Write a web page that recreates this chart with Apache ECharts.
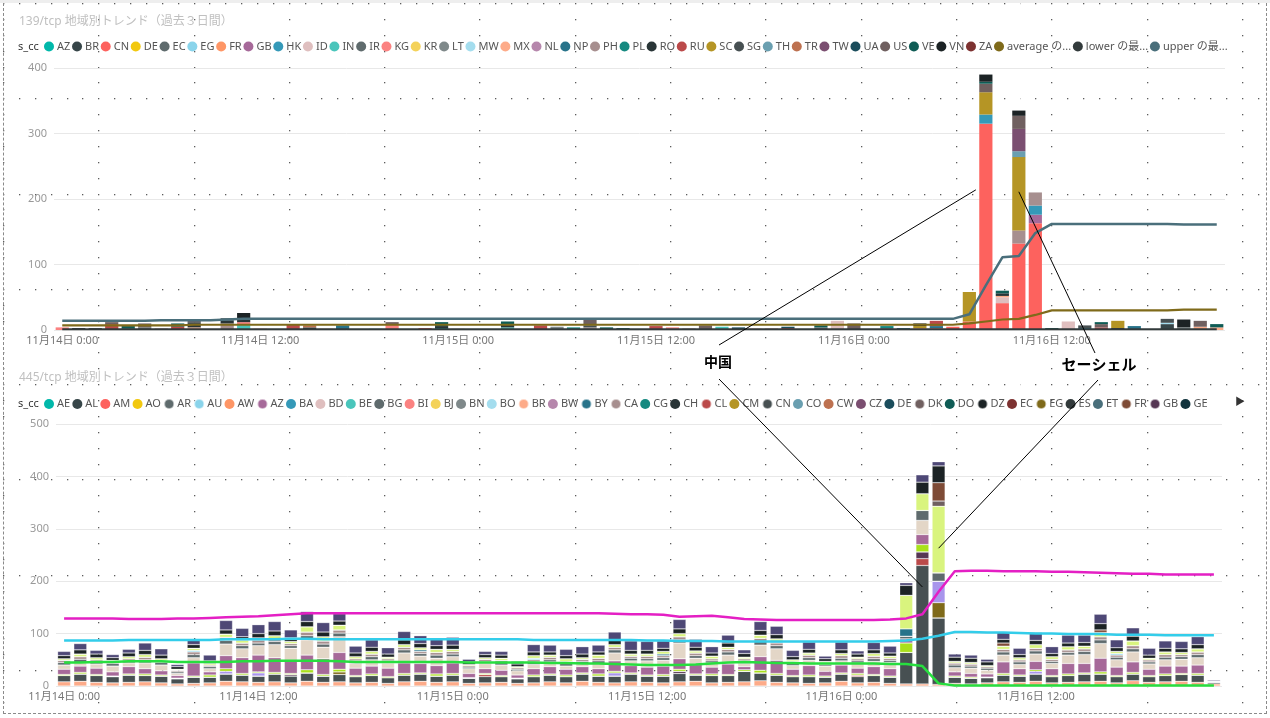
<!DOCTYPE html>
<html><head><meta charset="utf-8">
<script src="https://cdn.jsdelivr.net/npm/echarts@6/dist/echarts.min.js"></script>
<style>
html,body{margin:0;padding:0;width:1270px;height:718px;overflow:hidden;background:#fff;}
#bg{position:absolute;left:0;top:0;width:1270px;height:718px;
background-image:url("data:image/svg+xml,%3Csvg xmlns='http://www.w3.org/2000/svg' width='96' height='96'%3E%3Cg fill='%23333'%3E%3Crect x='0' y='0' width='1.3' height='1.3'/%3E%3Crect x='0' y='16' width='1.3' height='1.3'/%3E%3Crect x='0' y='32' width='1.3' height='1.3'/%3E%3Crect x='0' y='48' width='1.3' height='1.3'/%3E%3Crect x='0' y='64' width='1.3' height='1.3'/%3E%3Crect x='0' y='80' width='1.3' height='1.3'/%3E%3Crect x='16' y='0' width='1.3' height='1.3'/%3E%3Crect x='32' y='0' width='1.3' height='1.3'/%3E%3Crect x='48' y='0' width='1.3' height='1.3'/%3E%3Crect x='64' y='0' width='1.3' height='1.3'/%3E%3Crect x='80' y='0' width='1.3' height='1.3'/%3E%3C/g%3E%3C/svg%3E");
background-size:95.3px 95.3px;background-position:3px 3px;opacity:0.8;}
#topband{position:absolute;left:0;top:0;width:1270px;height:3px;background:#eeeeee;}
#frame{position:absolute;left:3px;top:3px;width:1262px;height:710px;border:1px dashed #8a8a8a;border-top:none;}
#c1,#c2{position:absolute;left:0;top:0;width:1270px;height:718px;}
</style></head>
<body>
<div id="bg"></div><div id="topband"></div><div id="frame"></div>
<div id="c1"></div><div id="c2"></div>
<script>
// ---------- categories / ticks ----------
const days = ['11月14日','11月15日','11月16日'];
const tickLabels = ['11月14日 0:00','11月14日 12:00','11月15日 0:00','11月15日 12:00','11月16日 0:00','11月16日 12:00'];
const allHours = [];
days.forEach(d => { for (let h = 0; h < 24; h++) allHours.push(d + ' ' + h + ':00'); });
const cats139 = allHours.slice(0, 71);
const cats445 = allHours.slice(0, 72);

// ---------- 139/tcp : [hourIndex, value] per country ----------
const t_BR = [[67,9]];
const t_CN = [[22,3],[26,1],[54,5],[55,13],[56,315],[57,41],[58,132],[59,163]];
const t_EC = [[5,4],[46,4]];
const t_EG = [[19,2]];
const t_GB = [[59,13]];
const t_HK = [[56,14],[59,14]];
const t_ID = [[6,3],[9,1],[24,2],[38,3],[47,14],[57,9],[61,13]];
const t_IN = [[11,8],[27,4],[40,5]];
const t_KG = [[0,4],[11,4],[12,2],[20,8],[37,4],[42,2],[53,3]];
const t_LT = [[30,5],[50,3],[68,4]];
const t_MW = [[67,2]];
const t_MX = [[8,4],[16,2],[52,3],[57,2],[69,5],[70,4]];
const t_NP = [[17,7],[51,3],[53,3],[62,3],[65,6]];
const t_PH = [[10,10],[32,4],[58,20],[59,20]];
const t_PL = [[4,2],[23,3],[31,4],[50,3]];
const t_RO = [[1,3],[8,4],[10,4],[11,4],[15,4],[23,3],[27,4],[57,4],[64,3]];
const t_RU = [[3,9],[7,5],[14,9],[29,7],[36,6],[43,2],[44,3],[53,8],[63,4]];
const t_SC = [[52,3],[55,45],[56,34],[58,112],[64,11]];
const t_SG = [[2,3],[8,4],[10,4],[32,3],[62,4],[67,6]];
const t_TH = [[58,9]];
const t_TR = [[15,3]];
const t_TW = [[58,34]];
const t_UA = [[7,2],[41,4],[44,2]];
const t_US = [[3,3],[5,6],[8,4],[20,4],[32,9],[39,7],[48,10],[56,13],[58,20],[63,5],[69,9]];
const t_VE = [[4,4],[7,3],[23,6],[27,5],[33,4],[34,3],[46,3],[56,3],[57,4],[60,3],[63,3],[70,5]];
const t_VN = [[11,10],[52,4],[56,11],[58,8],[68,12]];
const t_upper = [14,14,14,14,14,14,15,15,15,15,16,17,17,17,17,17,17,17,17,17,17,17,17,17,17,17,17,17,17,17,17,17,17,17,17,17,17,17,17,17,17,17,17,17,17,17,17,17,17,17,17,17,17,17,17,24,68,111,113,148,162,162,162,162,162,162,162,162,161,161,161];
const t_avg = [7,7,7,7,7,7,7,7,8,8,8,8,8,8,8,8,8,8,8,8,8,8,8,8,8,8,8,8,8,8,8,8,8,8,8,8,8,8,8,8,8,8,8,8,8,8,8,8,8,8,8,8,8,8,8,10,13,16,17,23,30,30,30,30,30,30,30,30,31,31,31];
const t_lower = [1,1,1,1,1,1,1,1,1,1,1,1,1,1,1,1,1,1,1,1,1,1,1,1,1,1,1,1,1,1,1,1,1,1,1,1,1,1,1,1,1,1,1,1,1,1,1,1,1,1,1,1,1,1,1,1,1,1,1,1,1,1,1,1,1,1,1,1,1,1,1];

// ---------- 445/tcp : hourly values per country ----------
const b_BR = [8,9,7,6,7,8,6,4,5,6,9,8,7,8,6,9,7,8,6,7,5,8,9,7,8,5,6,7,5,6,8,6,9,7,6,8,7,6,8,9,6,7,8,10,7,6,5,6,9,6,7,5,4,4,3,5,4,6,8,7,9,6,7,8,9,6,10,7,8,9,7,4];
const b_CN = [12,14,13,12,14,12,13,10,12,11,14,13,12,15,13,16,12,14,12,13,11,13,14,12,13,10,12,11,9,12,13,12,14,12,13,15,12,13,16,12,14,13,20,15,14,12,13,11,14,12,13,12,60,226,127,12,11,10,13,12,14,12,13,15,14,12,13,11,12,13,14,3];
const b_AR = [5,6,4,5,4,6,5,3,6,4,7,6,5,6,5,8,6,7,5,6,4,6,5,6,5,3,4,5,3,5,4,5,4,5,6,5,4,5,6,5,4,6,5,7,6,4,5,3,5,4,5,4,5,19,16,5,4,4,6,5,6,4,5,6,7,5,6,4,5,5,6,2];
const b_KR = [2,3,2,1,2,3,2,1,2,4,5,3,2,3,2,6,3,5,2,3,2,3,2,4,3,1,2,2,1,3,2,3,2,4,3,2,2,3,4,2,3,2,3,5,3,2,3,2,2,3,2,2,18,14,0,2,2,1,3,2,3,2,3,2,4,2,3,2,3,2,3,0];
const b_SC = [3,5,4,3,4,5,3,2,4,3,6,5,4,6,4,10,8,9,4,5,3,5,4,6,4,2,3,4,2,5,4,5,3,6,5,4,4,5,6,4,5,4,3,6,5,3,4,3,4,3,5,4,64,32,127,3,3,2,6,4,7,5,6,5,8,4,9,3,5,4,6,0];
const b_DZ = [6,8,7,5,7,8,7,5,7,5,8,7,8,9,7,10,9,8,7,8,6,9,8,7,8,5,6,6,5,7,6,6,7,6,8,7,7,6,9,7,6,8,7,9,8,6,7,5,7,6,7,6,19,22,32,8,8,7,7,6,8,6,7,7,12,7,9,6,7,7,8,0];
const b_US = [8,12,7,6,7,14,12,4,10,11,18,16,17,18,15,19,18,14,13,14,12,16,15,14,15,5,6,7,5,14,13,12,14,13,16,18,17,14,18,15,12,15,7,17,16,12,14,5,15,6,14,13,5,14,8,6,6,5,14,12,15,13,15,14,18,15,16,13,14,14,15,2];
const b_CA = [4,5,4,3,4,5,4,3,5,3,6,5,6,5,4,7,6,6,4,5,4,5,4,5,5,3,4,4,3,4,5,4,4,5,5,4,5,4,6,5,4,5,4,6,5,4,5,3,5,4,5,4,0,0,0,4,4,3,5,4,5,4,5,5,6,4,6,4,5,4,5,0];
const b_AZ = [10,12,12,8,14,10,8,5,25,6,25,30,32,28,24,28,30,32,14,15,16,20,18,16,20,8,9,10,6,12,14,11,12,10,20,14,15,16,20,18,13,20,6,26,25,12,18,9,15,10,15,14,8,19,0,8,7,6,22,12,16,13,20,18,26,16,20,12,15,14,16,0];
const b_JP = [8,7,8,11,7,11,11,4,10,6,22,17,18,25,24,29,22,30,9,12,10,19,14,14,12,9,10,10,8,8,9,6,6,10,15,9,12,11,30,12,8,17,6,22,22,7,10,10,8,10,10,12,0,27,0,8,10,7,13,8,14,10,16,17,28,14,19,10,12,13,14,0];
const b_CL = [[26,4],[49,3],[53,13]];
const b_GB = [[14,3],[38,4],[53,13]];
const b_EG = [[17,5],[54,29]];
const b_TW = [[10,5],[12,6],[34,6],[54,41],[60,5]];
const b_BY = [[22,3],[37,3],[52,14]];
const b_DK = [[54,10]];
const b_FR = [[54,35],[58,6],[64,5]];
const b_AU = [[8,3],[29,3],[44,3],[65,3]];
const b_upper = [129,129,129,129,128,128,128,129,129,130,131,132,133,135,137,139,139,139,139,139,139,139,139,139,139,139,139,139,139,139,139,139,139,139,138,137,137,136,132,133,134,131,128,127,126,126,126,126,126,126,126,127,129,137,180,219,220,220,219,219,219,218,218,217,216,215,214,214,213,213,213,213];
const b_avg = [87,87,87,87,88,88,88,88,88,88,89,89,89,89,90,90,89,89,89,89,89,89,89,89,89,89,89,89,89,88,88,88,88,88,88,88,87,87,86,86,86,85,85,85,85,85,85,85,85,85,85,86,87,90,96,103,103,102,102,101,100,100,99,99,99,98,98,98,97,97,97,97];
const b_lower = [45,45,46,46,47,47,47,46,46,46,46,47,47,48,48,48,48,47,46,46,46,46,46,46,46,45,45,45,45,45,44,44,43,43,42,41,40,40,40,41,43,45,46,45,44,44,43,43,43,43,43,42,42,38,5,1,1,1,1,1,1,1,1,1,1,1,1,1,1,1,1,1];

// ---------- helpers ----------
const FONT = "'Segoe UI','Noto Sans','Noto Sans CJK JP',sans-serif";
function dense(src, n){
  if (src.length === n && typeof src[0] === 'number') return src;
  const a = new Array(n).fill(0);
  src.forEach(p => { a[p[0]] = p[1]; });
  return a;
}
function bar(name, color, src, n, border){
  const st = {color};
  if (border) { st.borderColor = 'rgba(255,255,255,0.55)'; st.borderWidth = 0.5; }
  return {name, type:'bar', stack:'s', data:dense(src, n), itemStyle:st,
    barCategoryGap:'20%', emphasis:{disabled:true}};
}
function line(name, color, data, w){
  return {name, type:'line', data, symbol:'none', showSymbol:false, z:5,
    lineStyle:{color, width:w}, itemStyle:{color}, emphasis:{disabled:true}};
}
function xAxisCfg(cats, margin){
  return {type:'category', data:cats, boundaryGap:true,
    axisLine:{show:false}, axisTick:{show:false},
    axisLabel:{interval:(i, v) => tickLabels.indexOf(v) >= 0, color:'#777', fontSize:11, margin, fontFamily:FONT}};
}
function yAxisCfg(max){
  return {type:'value', min:0, max, interval:100,
    axisLine:{show:false}, axisTick:{show:false},
    axisLabel:{color:'#999', fontSize:11, margin:7, fontFamily:FONT},
    splitLine:{lineStyle:{color:'#e8e8e8', width:1}}};
}

// ---------- chart 1 : 139/tcp ----------
const N1 = cats139.length;
const series139 = [
  bar('AZ','#01B8AA',[],N1), bar('BR','#374649',t_BR,N1), bar('CN','#FD625E',t_CN,N1),
  bar('DE','#F2C80F',[],N1), bar('EC','#5F6B6D',t_EC,N1), bar('EG','#8AD4EB',t_EG,N1),
  bar('FR','#FE9666',[],N1), bar('GB','#A66999',t_GB,N1), bar('HK','#3599B8',t_HK,N1),
  bar('ID','#DFBFBF',t_ID,N1), bar('IN','#4AC5BB',t_IN,N1), bar('IR','#5F6B6D',[],N1),
  bar('KG','#FB8281',t_KG,N1), bar('KR','#F4D25A',[],N1), bar('LT','#7F898A',t_LT,N1),
  bar('MW','#A4DDEE',t_MW,N1), bar('MX','#FDAB89',t_MX,N1), bar('NL','#B687AC',[],N1),
  bar('NP','#28738A',t_NP,N1), bar('PH','#A78F8F',t_PH,N1), bar('PL','#168980',t_PL,N1),
  bar('RO','#293537',t_RO,N1), bar('RU','#BB4A4A',t_RU,N1), bar('SC','#B59525',t_SC,N1),
  bar('SG','#475052',t_SG,N1), bar('TH','#6A9FB0',t_TH,N1), bar('TR','#BD7150',t_TR,N1),
  bar('TW','#7B4F71',t_TW,N1), bar('UA','#1B4D5C',t_UA,N1), bar('US','#706060',t_US,N1),
  bar('VE','#0F5C55',t_VE,N1), bar('VN','#1C2325',t_VN,N1), bar('ZA','#7D3231',[],N1),
  line('average の平均','#7F6A1A',t_avg,2.2),
  line('lower の最大値','#323A3B',t_lower,2),
  line('upper の最大値','#4A6F7B',t_upper,2.5)
];
const short139 = {'average の平均':'average の...','lower の最大値':'lower の最...','upper の最大値':'upper の最...'};

const chart1 = echarts.init(document.getElementById('c1'), null, {renderer:'canvas'});
chart1.setOption({
  animation:false,
  textStyle:{fontFamily:FONT},
  title:{text:'139/tcp 地域別トレンド（過去３日間）', left:19, top:16, padding:0,
    textStyle:{color:'#c0c0c0', fontSize:12, fontWeight:'normal', fontFamily:FONT}},
  legend:{data:series139.map(s => s.name), left:44, top:41, padding:0, width:1224,
    itemWidth:10, itemHeight:10, itemGap:1.7, icon:'circle', selectedMode:false,
    formatter:n => short139[n] || n,
    textStyle:{color:'#555', fontSize:11, fontFamily:FONT, padding:[0,0,0,-2]}},
  graphic:[{type:'text', left:18, top:41, style:{text:'s_cc', fill:'#333', fontSize:11, fontFamily:FONT}}],
  grid:{left:54, right:45, top:68, bottom:388},
  xAxis:xAxisCfg(cats139, 5),
  yAxis:yAxisCfg(400),
  series:series139
});

// ---------- chart 2 : 445/tcp ----------
const N2 = cats445.length;
const E = [];
const series445 = [
  bar('AE','#01B8AA',E,N2), bar('AL','#374649',E,N2), bar('AM','#FD625E',E,N2), bar('AO','#F2C80F',E,N2),
  bar('AW','#FE9666',E,N2), bar('BA','#3599B8',E,N2), bar('BD','#DFBFBF',E,N2), bar('BE','#4AC5BB',E,N2),
  bar('BG','#5F6B6D',E,N2), bar('BI','#FB8281',E,N2), bar('BJ','#F4D25A',E,N2), bar('BN','#7F898A',E,N2),
  bar('BO','#A4DDEE',E,N2), bar('BW','#B687AC',E,N2), bar('CG','#168980',E,N2), bar('CH','#293537',E,N2),
  bar('CM','#B59525',E,N2), bar('CO','#6A9FB0',E,N2), bar('CW','#BD7150',E,N2), bar('CZ','#7B4F71',E,N2),
  bar('DE','#1B4D5C',E,N2), bar('DO','#0F5C55',E,N2), bar('EC','#7D3231',E,N2), bar('ES','#323A3B',E,N2),
  bar('ET','#4A6F7B',E,N2), bar('GE','#12343D',E,N2),
  bar('BR','#FDAB89',b_BR,N2,1), bar('CN','#475052',b_CN,N2,1), bar('CL','#BB4A4A',b_CL,N2,1),
  bar('GB','#563754',b_GB,N2,1), bar('EG','#7F6A1A',b_EG,N2,1), bar('TW','#A895EC',b_TW,N2,1),
  bar('KR','#A9E01C',b_KR,N2,1), bar('AZ','#A66999',b_AZ,N2,1), bar('JP','#E3D6C7',b_JP,N2,1),
  bar('AR','#5F6B6D',b_AR,N2,1), bar('CA','#A78F8F',b_CA,N2,1), bar('AU','#8AD4EB',b_AU,N2,1),
  bar('BY','#28738A',b_BY,N2,1), bar('SC','#D9F47E',b_SC,N2,1), bar('DK','#706060',b_DK,N2,1),
  bar('FR','#7E4B36',b_FR,N2,1), bar('DZ','#1C2325',b_DZ,N2,1), bar('US','#4E4876',b_US,N2,1),
  line('upper の最大値','#E41FC4',b_upper,2.5),
  line('average の平均','#33CDEA',b_avg,2.5),
  line('lower の最大値','#27DE3F',b_lower,2.5)
];
const legend445 = ['AE','AL','AM','AO','AR','AU','AW','AZ','BA','BD','BE','BG','BI','BJ','BN','BO','BR','BW','BY','CA','CG','CH','CL','CM','CN','CO','CW','CZ','DE','DK','DO','DZ','EC','EG','ES','ET','FR','GB','GE'];

const chart2 = echarts.init(document.getElementById('c2'), null, {renderer:'canvas'});
chart2.setOption({
  animation:false,
  textStyle:{fontFamily:FONT},
  title:{text:'445/tcp 地域別トレンド（過去３日間）', left:19, top:372, padding:0,
    textStyle:{color:'#c0c0c0', fontSize:12, fontWeight:'normal', fontFamily:FONT}},
  legend:{data:legend445, left:44, top:398, padding:0, width:1200,
    itemWidth:10, itemHeight:10, itemGap:2.2, icon:'circle', selectedMode:false,
    textStyle:{color:'#555', fontSize:11, fontFamily:FONT, padding:[0,0,0,-2]}},
  grid:{left:56, right:48, top:424, bottom:32},
  xAxis:xAxisCfg(cats445, 5),
  yAxis:yAxisCfg(500),
  series:series445
});

// ---------- annotations ----------
const cnTop = chart1.convertToPixel({gridIndex:0}, [cats139[56], 214]);
const cnBot = chart2.convertToPixel({gridIndex:0}, [cats445[53], 189]);
const scTop = chart1.convertToPixel({gridIndex:0}, [cats139[58], 211]);
const scBot = chart2.convertToPixel({gridIndex:0}, [cats445[54], 263]);
const ls = {stroke:'#000', lineWidth:1};
chart2.setOption({graphic:[
  {type:'text', left:18, top:398, style:{text:'s_cc', fill:'#333', fontSize:11, fontFamily:FONT}},
  {type:'text', left:1235, top:397, style:{text:'▶', fill:'#333', fontSize:10, fontFamily:FONT}},
  {type:'line', shape:{x1:719, y1:345, x2:cnTop[0]-10, y2:cnTop[1]}, style:ls, z:100},
  {type:'line', shape:{x1:719, y1:379, x2:cnBot[0], y2:cnBot[1]}, style:ls, z:100},
  {type:'line', shape:{x1:scTop[0], y1:scTop[1], x2:1095, y2:353}, style:ls, z:100},
  {type:'line', shape:{x1:1098, y1:380, x2:scBot[0], y2:scBot[1]}, style:ls, z:100},
  {type:'text', x:718, y:362, z:100, style:{text:'中国', align:'center', verticalAlign:'middle', fill:'#000', fontSize:14, fontWeight:'bold', fontFamily:"'Noto Sans CJK JP',sans-serif"}},
  {type:'text', x:1099, y:364, z:100, style:{text:'セーシェル', align:'center', verticalAlign:'middle', fill:'#000', fontSize:15, fontWeight:'bold', fontFamily:"'Noto Sans CJK JP',sans-serif"}}
]});
</script>
</body></html>
